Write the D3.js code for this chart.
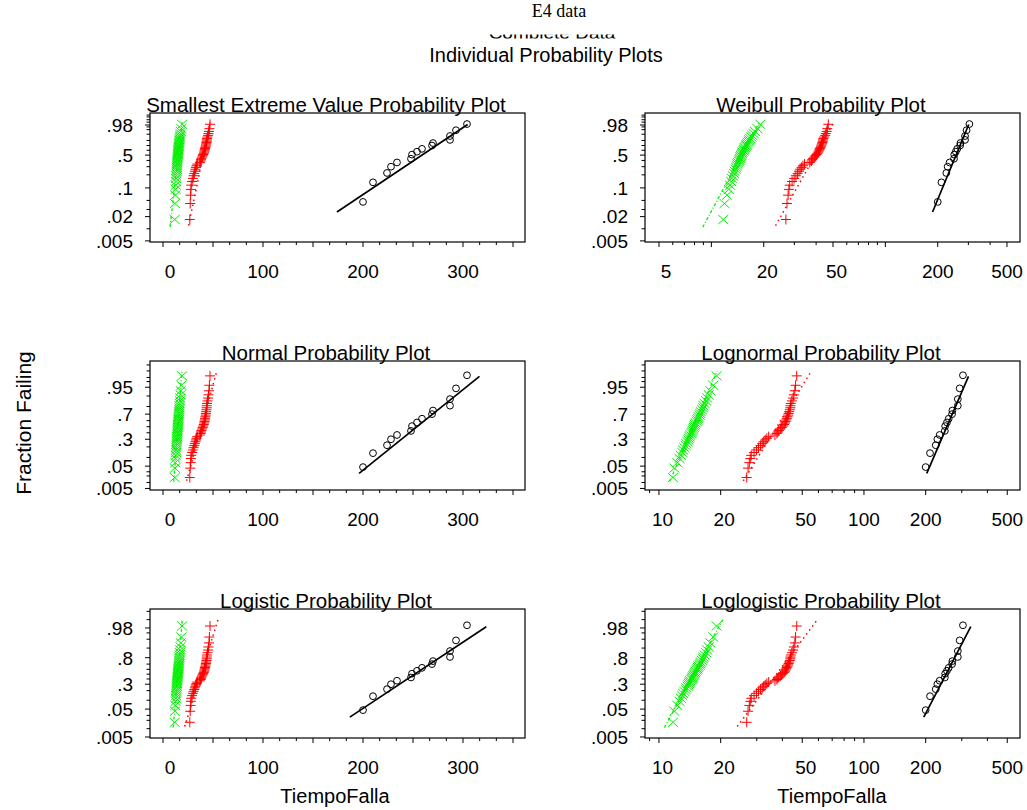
<!DOCTYPE html>
<html><head><meta charset="utf-8">
<script src="https://cdn.jsdelivr.net/npm/d3@7"></script>
<style>body{margin:0;background:#fff} text{font-family:"Liberation Sans",Arial,sans-serif;fill:#000}</style>
</head><body><svg id="c" width="1027" height="810"></svg>
<script>
// ---------- data ----------
const circleTimes = [200,210,224,228,234,248,249,254,259,269,270,287,287,293,304];
const circleFrac  = [.046,.135,.22,.30,.365,.43,.51,.57,.63,.70,.75,.81,.875,.945,.984];

const plusTimes = [26.8,27.2,27.6,27.9,28.2,29.1,29.9,30.6,31.3,31.9,32.4,33.0,33.6,34.3,36.8,37.6,38.0,38.4,39.1,39.7,
                   40.2,40.8,41.2,41.5,41.8,42.0,42.4,42.7,42.9,43.2,43.5,43.7,43.8,44.0,44.5,45.1,45.5,46.0,46.4,47.0];
const plusFrac  = [.017,.042,.067,.092,.116,.141,.166,.191,.215,.240,.265,.290,.314,.339,.364,.389,.413,.438,.463,.488,
                   .512,.537,.562,.587,.611,.636,.661,.686,.710,.735,.760,.785,.809,.834,.859,.884,.908,.933,.958,.983];

const crossTimes = [11.7,11.9,12.3,12.6,12.8,13.0,13.1,13.3,13.5,13.6,13.8,13.9,14.0,14.1,14.2,14.4,14.5,14.6,14.7,14.8,
                    14.9,15.0,15.1,15.3,15.4,15.5,15.6,15.8,15.9,16.0,16.2,16.4,16.5,16.7,17.0,17.2,17.5,17.8,18.4,19.1];
const crossFrac  = [.017,.042,.067,.092,.116,.141,.166,.191,.215,.240,.265,.290,.314,.339,.364,.389,.413,.438,.463,.488,
                    .512,.537,.562,.587,.611,.636,.661,.686,.710,.735,.760,.785,.809,.834,.859,.884,.908,.933,.958,.983];

// fitted distribution parameters (circle, plus, cross)
const sevLoc = [268.5,41.5,16.0],  sevScale = [26,3.6,2.0];
const normMean = [254,38.5,14.8],  normSd = [29.8,6.6,1.75];
const logisLoc = [251.7,38,14.7],  logisScale = [17.9,3.7,1.0];
const weibScale = [264,41.5,15.6], weibShape = [10.5,7.7,8.07];
const lnormLoc = [5.536,3.627,2.688], lnormScale = [0.116,0.167,0.116];
const llogLoc = [5.528,3.623,2.688],  llogScale = [0.0693,0.0999,0.072];
const fitLow = [.026,.012,.011], fitHigh = [.982,.99,.99];

// tick labels
const sevLabels = [.98,.5,.1,.02,.005];
const normLabels = [.95,.7,.3,.05,.005];
const logisLabels = [.98,.8,.3,.05,.005];
const linXLabels = [0,100,200,300];
const weibXLabels = [5,20,50,200,500];
const lnXLabels = [10,20,50,100,200,500];
const yTickProbs = [.001,.002,.003,.005,.01,.02,.03,.05,.1,.2,.3,.4,.5,.6,.7,.8,.9,.95,.97,.98,.99,.995,.998,.999];

// ---------- transforms ----------
function qnorm(p){
 const a=[-3.969683028665376e+01,2.209460984245205e+02,-2.759285104469687e+02,1.383577518672690e+02,-3.066479806614716e+01,2.506628277459239e+00];
 const b=[-5.447609879822406e+01,1.615858368580409e+02,-1.556989798598866e+02,6.680131188771972e+01,-1.328068155288572e+01];
 const c=[-7.784894002430293e-03,-3.223964580411365e-01,-2.400758277161838e+00,-2.549732539343734e+00,4.374664141464968e+00,2.938163982698783e+00];
 const d=[7.784695709041462e-03,3.224671290700398e-01,2.445134137142996e+00,3.754408661907416e+00];
 const pl=0.02425; let q,r;
 if(p<pl){q=Math.sqrt(-2*Math.log(p));return (((((c[0]*q+c[1])*q+c[2])*q+c[3])*q+c[4])*q+c[5])/((((d[0]*q+d[1])*q+d[2])*q+d[3])*q+1);}
 if(p>1-pl){q=Math.sqrt(-2*Math.log(1-p));return -(((((c[0]*q+c[1])*q+c[2])*q+c[3])*q+c[4])*q+c[5])/((((d[0]*q+d[1])*q+d[2])*q+d[3])*q+1);}
 q=p-0.5;r=q*q;return (((((a[0]*r+a[1])*r+a[2])*r+a[3])*r+a[4])*r+a[5])*q/(((((b[0]*r+b[1])*r+b[2])*r+b[3])*r+b[4])*r+1);
}
const qsev = p=>Math.log(-Math.log(1-p));
const qlogis = p=>Math.log(p/(1-p));

const groups = [
 {times:circleTimes, frac:circleFrac, mark:"circle", color:"#000", dash:null, lw:1.7},
 {times:plusTimes,   frac:plusFrac,   mark:"plus",   color:"#ff0000", dash:"1.5,3.5", lw:1.5},
 {times:crossTimes,  frac:crossFrac,  mark:"cross",  color:"#00f000", dash:"3,2,1,2", lw:1.3}
];

const panels = [
 {title:"Smallest Extreme Value Probability Plot", col:0,row:0,q:qsev,yDom:[-5.36,2.054],yLabels:sevLabels,log:false,loc:sevLoc,scale:sevScale},
 {title:"Weibull Probability Plot", col:1,row:0,q:qsev,yDom:[-5.36,2.054],yLabels:sevLabels,log:true,xDom:[4.155,594],xLabels:weibXLabels,
   loc:weibScale.map(Math.log),scale:weibShape.map(b=>1/b)},
 {title:"Normal Probability Plot", col:0,row:1,q:qnorm,yDom:[-2.64,2.74],yLabels:normLabels,log:false,loc:normMean,scale:normSd},
 {title:"Lognormal Probability Plot", col:1,row:1,q:qnorm,yDom:[-2.64,2.74],yLabels:normLabels,log:true,xDom:[8.55,577],xLabels:lnXLabels,loc:lnormLoc,scale:lnormScale},
 {title:"Logistic Probability Plot", col:0,row:2,q:qlogis,yDom:[-5.38,5.49],yLabels:logisLabels,log:false,loc:logisLoc,scale:logisScale},
 {title:"Loglogistic Probability Plot", col:1,row:2,q:qlogis,yDom:[-5.38,5.49],yLabels:logisLabels,log:true,xDom:[8.55,577],xLabels:lnXLabels,loc:llogLoc,scale:llogScale}
];

const svg = d3.select("#c");
const colX = [[150,525],[645,1020]];
const rowY = [113,361,609], H = 129;
const titleX = [326,821];

// headers
svg.append("text").attr("x",559).attr("y",17).attr("text-anchor","middle")
  .style("font-family","'Liberation Serif','Times New Roman',serif").style("font-size","18px").text("E4 data");
svg.append("clipPath").attr("id","hclip").append("rect").attr("x",0).attr("y",34.5).attr("width",1027).attr("height",4);
svg.append("text").attr("x",552).attr("y",38.5).attr("text-anchor","middle").attr("clip-path","url(#hclip)")
  .style("font-size","19px").text("Complete Data");
svg.append("text").attr("x",546).attr("y",62).attr("text-anchor","middle").style("font-size","20px").text("Individual Probability Plots");
svg.append("text").attr("transform","translate(31,423) rotate(-90)").attr("text-anchor","middle").style("font-size","21px").text("Fraction Failing");
svg.append("text").attr("x",335).attr("y",803).attr("text-anchor","middle").style("font-size","20px").text("TiempoFalla");
svg.append("text").attr("x",832).attr("y",803).attr("text-anchor","middle").style("font-size","20px").text("TiempoFalla");

const fmtP = p => String(p).replace(/^0/,"");

panels.forEach((P,pi)=>{
 const [x0,x1] = colX[P.col]; const y0 = rowY[P.row], y1 = y0+H;
 const xs = P.log ? d3.scaleLog().domain(P.xDom).range([x0,x1]) : d3.scaleLinear().domain([-13,362]).range([x0,x1]);
 const ys = d3.scaleLinear().domain(P.yDom).range([y1,y0]);
 const g = svg.append("g");
 const cid = "clip"+pi;
 svg.append("clipPath").attr("id",cid).append("rect").attr("x",x0).attr("y",y0).attr("width",x1-x0).attr("height",H);

 g.append("text").attr("x",titleX[P.col]).attr("y",y0-1).attr("text-anchor","middle").style("font-size","20.5px").text(P.title);

 g.append("rect").attr("x",x0).attr("y",y0).attr("width",x1-x0).attr("height",H).attr("fill","none").attr("stroke","#000").attr("stroke-width",1.2);

 const yt = yTickProbs.filter(p=>{const v=P.q(p);return v>=P.yDom[0]&&v<=P.yDom[1];});
 g.selectAll(".yt").data(yt).enter().append("line")
  .attr("x1",x0).attr("x2",d=>x0-(P.yLabels.includes(d)?5:3.5))
  .attr("y1",d=>ys(P.q(d))).attr("y2",d=>ys(P.q(d))).attr("stroke","#000").attr("stroke-width",1);
 g.selectAll(".yl").data(P.yLabels).enter().append("text")
  .attr("x",x0-17).attr("y",d=>ys(P.q(d))).attr("dy","0.36em").attr("text-anchor","end")
  .style("font-size","19px").text(fmtP);

 let xt, xl;
 if(P.log){
   const major=[5,10,20,50,100,200,500], minor=[4,6,7,8,9,30,40,60,70,80,90,300,400];
   xt = major.map(v=>({v,len:5})).concat(minor.map(v=>({v,len:3})));
   xl = P.xLabels;
 } else {
   xt = d3.range(0,22).map(i=>({v:i*100/6,len:(i%3===0)?5:3}));
   xl = linXLabels;
 }
 xt = xt.filter(d=>d.v>=xs.domain()[0]&&d.v<=xs.domain()[1]);
 g.selectAll(".xt").data(xt).enter().append("line")
  .attr("x1",d=>xs(d.v)).attr("x2",d=>xs(d.v)).attr("y1",y1).attr("y2",d=>y1+d.len)
  .attr("stroke","#000").attr("stroke-width",1);
 g.selectAll(".xl").data(xl).enter().append("text")
  .attr("x",d=>xs(d)+(3-String(d).length)*3.5).attr("y",y1+36).attr("text-anchor","middle")
  .style("font-size","19px").text(d=>String(d));

 const pg = g.append("g").attr("clip-path",`url(#${cid})`);
 groups.forEach((G,k)=>{
   const ends = [fitLow[k],fitHigh[k]].map(p=>{
     const v = P.loc[k]+P.scale[k]*P.q(p);
     return [xs(P.log?Math.exp(v):v), ys(P.q(p))];
   });
   pg.append("path").attr("d",d3.line()(ends)).attr("fill","none").attr("stroke",G.color)
     .attr("stroke-width",G.lw).attr("stroke-dasharray",G.dash);
 });
 groups.forEach((G,k)=>{
   const pts = G.times.map((t,i)=>[xs(t), ys(P.q(G.frac[i]))]);
   const sel = pg.selectAll(".m"+k).data(pts).enter();
   if(G.mark==="circle"){
     sel.append("circle").attr("cx",d=>d[0]).attr("cy",d=>d[1]).attr("r",3.4)
       .attr("fill","none").attr("stroke",G.color).attr("stroke-width",1);
   } else if(G.mark==="plus"){
     sel.append("path").attr("d",d=>`M${d[0]-5},${d[1]}H${d[0]+5}M${d[0]},${d[1]-5}V${d[1]+5}`)
       .attr("stroke",G.color).attr("stroke-width",1).attr("fill","none");
   } else {
     sel.append("path").attr("d",d=>`M${d[0]-5},${d[1]-4.5}L${d[0]+5},${d[1]+4.5}M${d[0]-5},${d[1]+4.5}L${d[0]+5},${d[1]-4.5}`)
       .attr("stroke",G.color).attr("stroke-width",1).attr("fill","none");
   }
 });
});
</script></body></html>
